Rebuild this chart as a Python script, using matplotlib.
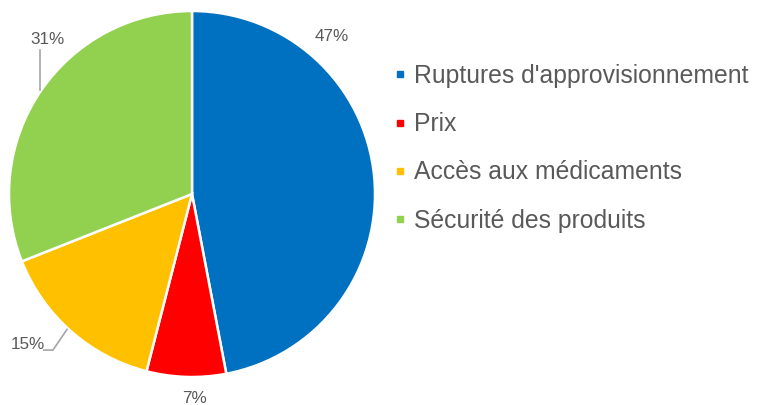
import matplotlib
matplotlib.use("Agg")
import matplotlib.pyplot as plt
from matplotlib.lines import Line2D

labels = ["Ruptures d'approvisionnement", "Prix", "Accès aux médicaments", "Sécurité des produits"]
values = [47, 7, 15, 31]
colors = ["#0070C0", "#FF0000", "#FFC000", "#92D050"]
# label text positions (x, y) in pie units
label_pos = [(0.765, 0.858), (0.016, -1.115), (-0.895, -0.82), (-0.792, 0.842)]

W, H = 768, 405
fig = plt.figure(figsize=(W / 100, H / 100), dpi=100)
plt.rcParams['font.family'] = ['Liberation Sans', 'DejaVu Sans']
grey = "#595959"

cx, cy, r = 192, 194, 183
ax = fig.add_axes([(cx - r) / W, (H - cy - r) / H, 2 * r / W, 2 * r / H])
wedges, _ = ax.pie(values, colors=colors, startangle=90, counterclock=False,
                   radius=1, wedgeprops=dict(edgecolor="white", linewidth=1.8))
ax.set_xlim(-1, 1)
ax.set_ylim(-1, 1)
ax.set_aspect("equal")
ax.axis("off")

for v, (x, y) in zip(values, label_pos):
    ax.text(x, y, "%d%%" % v, ha="center", va="center", fontsize=12.3, color=grey, clip_on=False)

# leader lines
ax.add_line(Line2D([-0.83, -0.83], [0.787, 0.568], color="#A6A6A6", lw=1.2, clip_on=False))
ax.add_line(Line2D([-0.81, -0.76, -0.683], [-0.853, -0.853, -0.74], color="#A6A6A6", lw=1.2, clip_on=False))

# legend
handles = [Line2D([0], [0], marker="s", ls="", markersize=5, markerfacecolor=c, markeredgecolor=c) for c in colors]
fig.legend(handles, labels, loc="upper left", bbox_to_anchor=(392.5 / W, 1 - 64 / H), frameon=False,
           fontsize=17.8, labelcolor=grey, handlelength=0.6, handletextpad=0.28, labelspacing=0.98,
           borderaxespad=0, borderpad=0)

fig.savefig("out.png", dpi=100)
